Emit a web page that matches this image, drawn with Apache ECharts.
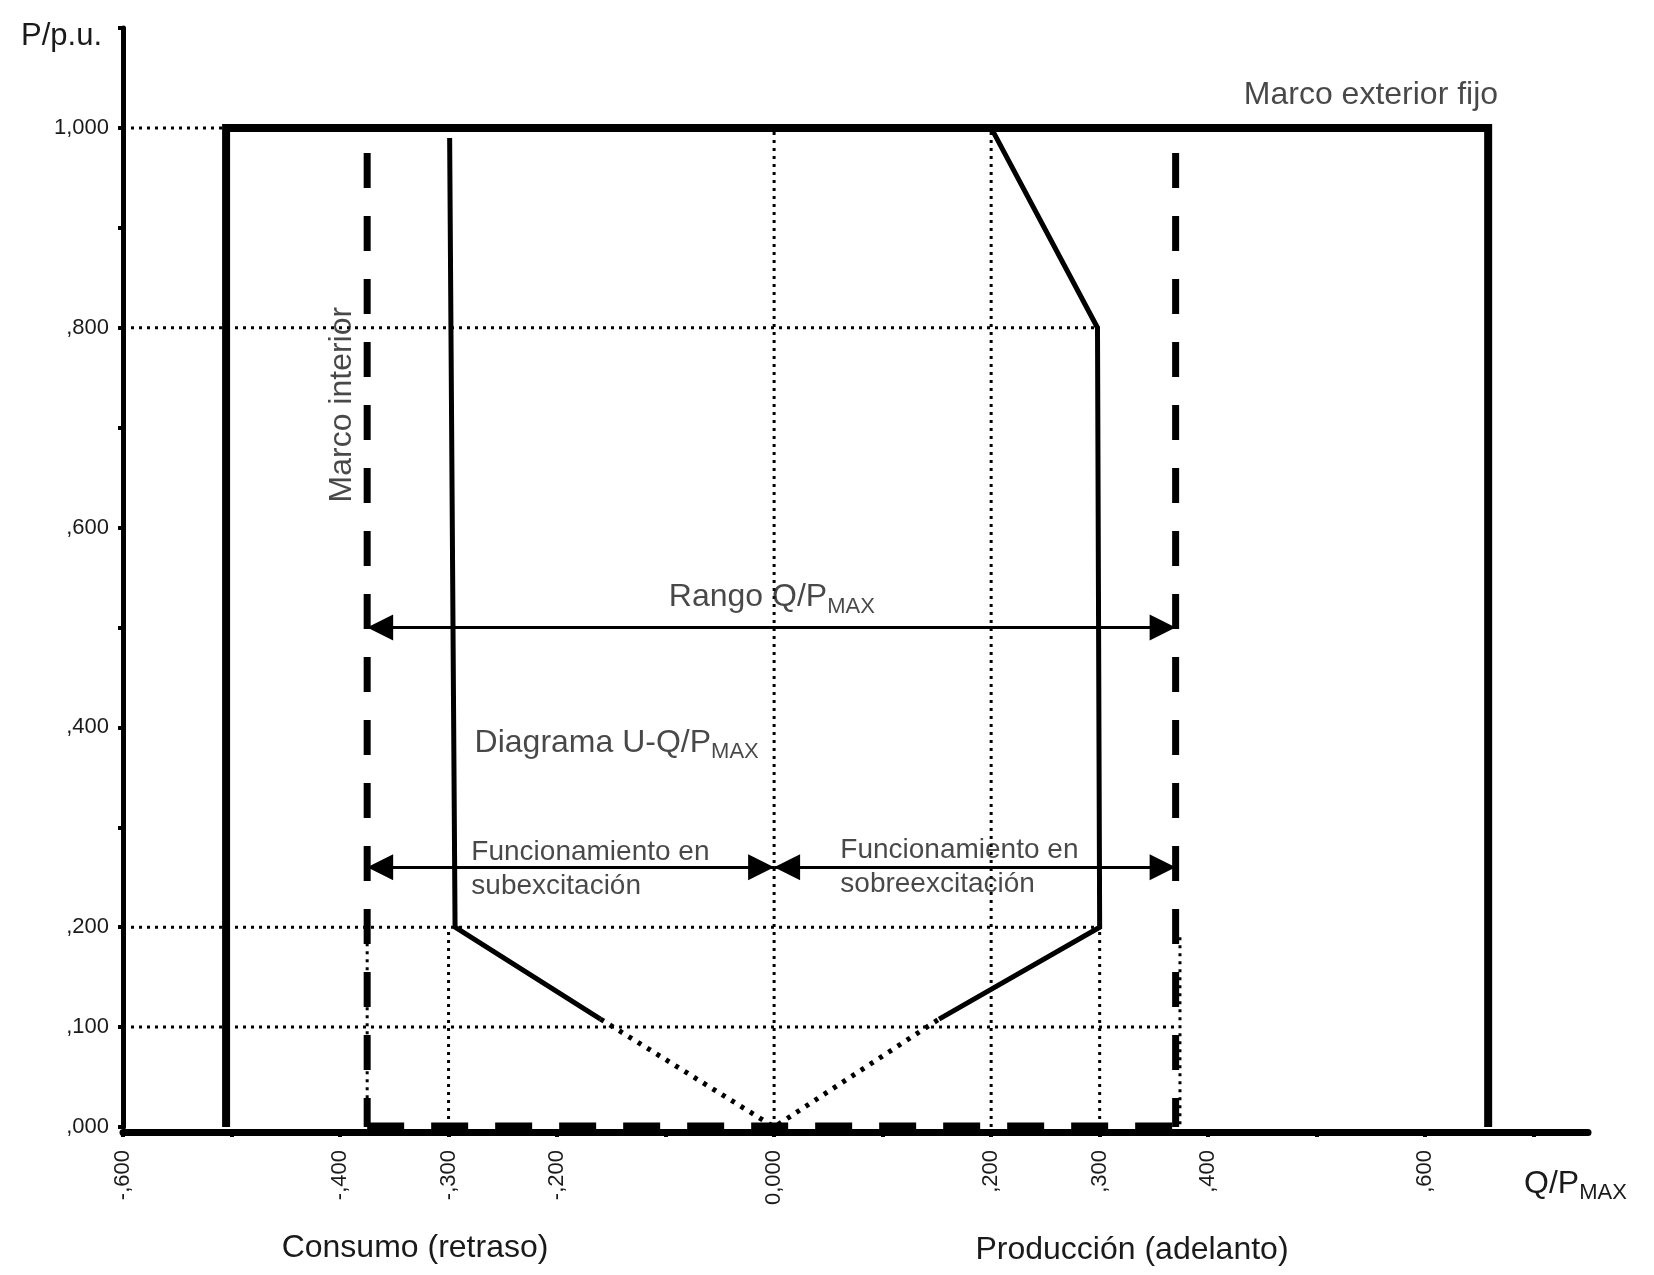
<!DOCTYPE html>
<html>
<head>
<meta charset="utf-8">
<script src="https://cdn.jsdelivr.net/npm/echarts@6/dist/echarts.min.js"></script>
<style>
  html, body { margin: 0; padding: 0; background: #fff; }
  #chart { width: 1654px; height: 1275px; }
</style>
</head>
<body>
<div id="chart"></div>
<script>
// tick labels (Spanish decimal comma)
const xTickLabels = [[-0.6, '-,600'], [-0.4, '-,400'], [-0.3, '-,300'], [-0.2, '-,200'], [0, '0,000'], [0.2, ',200'], [0.3, ',300'], [0.4, ',400'], [0.6, ',600']];
const yTickLabels = [[1.0, '1,000'], [0.8, ',800'], [0.6, ',600'], [0.4, ',400'], [0.2, ',200'], [0.1, ',100'], [0, ',000']];

// frames
const outerFrame = [[-0.505, 0], [-0.505, 1.0], [0.658, 1.0], [0.658, 0]];
const innerLeft = [[-0.375, 0.975], [-0.375, 0]];
const innerRight = [[0.37, 0.975], [0.37, 0]];
const innerBottom = [[-0.375, 0], [0.37, 0]];
const innerLeftLow = [[-0.375, 0.2], [-0.375, 0]];
const innerRightLow = [[0.374, 0.19], [0.374, 0]];

// U-Q/Pmax diagram
const diagramLeft = [[-0.299, 0.99], [-0.294, 0.2], [-0.16, 0.108]];
const diagramRight = [[0.152, 0.108], [0.3, 0.2], [0.298, 0.8], [0.2, 1.0]];
const diagramDotted = [[-0.16, 0.108], [0, 0], [0.152, 0.108]];

// dotted reference lines
const guideLines = [
  [[-0.6, 1.0], [-0.505, 1.0]],
  [[-0.6, 0.8], [0.3, 0.8]],
  [[-0.6, 0.2], [0.3, 0.2]],
  [[-0.6, 0.1], [0.37, 0.1]],
  [[0, 0], [0, 1.0]],
  [[0.2, 0], [0.2, 1.0]],
  [[-0.3, 0], [-0.3, 0.2]],
  [[0.3, 0], [0.3, 0.2]],
];

// double arrows
const arrows = [
  [[-0.375, 0.5], [0.37, 0.5]],
  [[-0.375, 0.26], [0, 0.26]],
  [[0, 0.26], [0.37, 0.26]],
];

// annotations inside the plot
const notes = [
  { text: 'Marco exterior fijo', at: [0.55, 1.033], align: 'center' },
  { text: 'Marco interior', at: [-0.398, 0.723], align: 'center', rotate: 90 },
  { text: 'Rango Q/P{sub|MAX}', at: [-0.097, 0.53], align: 'left' },
  { text: 'Diagrama U-Q/P{sub|MAX}', at: [-0.276, 0.384], align: 'left' },
  { text: '{small|Funcionamiento en}\n{small|subexcitación}', at: [-0.279, 0.258], align: 'left' },
  { text: '{small|Funcionamiento en}\n{small|sobreexcitación}', at: [0.061, 0.26], align: 'left' },
];

const FONT = "'Liberation Sans', Arial, sans-serif";
const TEXT = '#1a1a1a';
// box 20x40, tip at the centre so it lands on the line end
const ARROW = 'path://M0,0 L0,0.1 M20,0 L20,0.1 M10,20 L5,40 L15,40 Z';

const rich = {
  sub: { fontSize: 22, lineHeight: 20, verticalAlign: 'bottom', color: TEXT, fontFamily: FONT },
  small: { fontSize: 28, lineHeight: 34, color: TEXT, fontFamily: FONT },
};

function lookup(list, v) {
  const hit = list.find((t) => Math.abs(t[0] - v) < 1e-6);
  return hit ? hit[1] : '';
}

function line(data, width, type, z) {
  return {
    type: 'line',
    data,
    symbol: 'none',
    silent: true,
    z: z || 2,
    lineStyle: { color: '#000', width, type: type || 'solid', cap: 'butt', join: 'miter' },
  };
}

const chart = echarts.init(document.getElementById('chart'));

chart.setOption({
  animation: false,
  backgroundColor: '#fff',
  textStyle: { fontFamily: FONT },
  grid: { left: 123, right: 66, top: 28, bottom: 148, containLabel: false, outerBoundsMode: 'none' },
  xAxis: {
    type: 'value',
    min: -0.6,
    max: 0.75,
    interval: 0.1,
    offset: 5,
    axisLine: { onZero: false, lineStyle: { color: '#000', width: 7 } },
    axisTick: { show: true, length: 5, lineStyle: { color: '#000', width: 4 } },
    axisLabel: {
      rotate: 90, margin: 18, fontSize: 22, color: TEXT, fontFamily: FONT,
      showMaxLabel: false,
      formatter: (v) => lookup(xTickLabels, v),
    },
    splitLine: { show: false },
  },
  yAxis: {
    type: 'value',
    min: 0,
    max: 1.1,
    interval: 0.1,
    axisLine: { show: true, onZero: false, lineStyle: { color: '#000', width: 5 } },
    axisTick: { show: true, length: 5, lineStyle: { color: '#000', width: 4 } },
    axisLabel: {
      margin: 14, fontSize: 22, color: TEXT, fontFamily: FONT,
      formatter: (v) => lookup(yTickLabels, v),
    },
    splitLine: { show: false },
  },
  series: [
    ...guideLines.map((d) => line(d, 3, [3, 5], 1)),
    line(outerFrame, 8, 'solid', 3),
    line(innerLeft, 7, [35, 28], 3),
    line(innerRight, 7, [35, 28], 3),
    line(innerBottom, 9, [37, 27], 3),
    line(innerLeftLow, 3, [3, 5], 3),
    line(innerRightLow, 3, [3, 5], 3),
    line(diagramLeft, 5, 'solid', 4),
    line(diagramRight, 5, 'solid', 4),
    line(diagramDotted, 5, [4, 7], 4),
    {
      type: 'lines',
      coordinateSystem: 'cartesian2d',
      silent: true,
      z: 5,
      symbol: [ARROW, ARROW],
      symbolSize: 52,
      lineStyle: { color: '#000', width: 3, opacity: 1, curveness: 0 },
      data: arrows.map((c) => ({ coords: c })),
    },
    {
      type: 'scatter',
      silent: true,
      symbolSize: 0,
      z: 6,
      data: notes.map((n) => ({
        value: n.at,
        label: {
          show: true,
          position: [0, 0],
          formatter: n.text,
          align: n.align,
          verticalAlign: 'middle',
          rotate: n.rotate || 0,
          fontSize: 32,
          lineHeight: 40,
          color: TEXT,
          fontFamily: FONT,
          rich,
        },
      })),
    },
  ],
  graphic: [
    { type: 'text', x: 102, y: 36, style: { text: 'P/p.u.', font: `31px ${FONT}`, fill: TEXT, align: 'right', verticalAlign: 'middle' } },
    { type: 'text', x: 1524, y: 1184, style: { text: 'Q/P{sub|MAX}', font: `32px ${FONT}`, fill: TEXT, align: 'left', verticalAlign: 'middle', lineHeight: 40, rich } },
    { type: 'text', x: 415, y: 1248, style: { text: 'Consumo (retraso)', font: `32px ${FONT}`, fill: TEXT, align: 'center', verticalAlign: 'middle' } },
    { type: 'text', x: 1132, y: 1250, style: { text: 'Producción (adelanto)', font: `32px ${FONT}`, fill: TEXT, align: 'center', verticalAlign: 'middle' } },
  ],
});
</script>
</body>
</html>
